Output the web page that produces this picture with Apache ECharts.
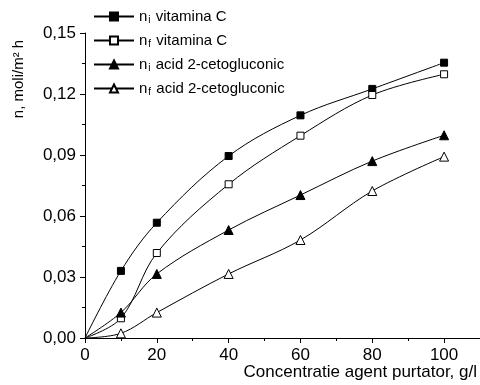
<!DOCTYPE html>
<html><head><meta charset="utf-8">
<script src="https://cdn.jsdelivr.net/npm/echarts@6/dist/echarts.min.js"></script>
<style>html,body{margin:0;padding:0;background:#fff}#c{width:480px;height:385px}</style>
</head><body><div id="c"></div>
<script>
const xValues = [0, 10, 20, 40, 60, 80, 100];
const niVitC = [0, 0.033, 0.0567, 0.0895, 0.1095, 0.1225, 0.1354];
const nfVitC = [0, 0.0097, 0.0418, 0.0756, 0.0995, 0.1195, 0.1297];
const niAcid = [0, 0.0125, 0.0315, 0.0531, 0.0703, 0.087, 0.0997];
const nfAcid = [0, 0.0023, 0.0125, 0.0315, 0.0482, 0.0723, 0.0892];
const seriesNames = ['n{s|i} vitamina C', 'n{s|f} vitamina C', 'n{s|i} acid 2-cetogluconic', 'n{s|f} acid 2-cetogluconic'];
const xAxisTitle = 'Concentratie agent purtator, g/l';
const yAxisTitle = 'n, moli/m² h';

const FONT = 'Liberation Sans, Arial, sans-serif';
function mk(vals) {
  return xValues.map((x, i) => i === 0 ? { value: [x, vals[i]], symbol: 'none' } : [x, vals[i]]);
}
const defs = [
  { data: niVitC, symbol: 'rect', size: 7, fill: '#000' },
  { data: nfVitC, symbol: 'rect', size: 7, fill: '#fff' },
  { data: niAcid, symbol: 'triangle', size: 9, fill: '#000' },
  { data: nfAcid, symbol: 'triangle', size: 9, fill: '#fff' }
];
const chart = echarts.init(document.getElementById('c'), null, { renderer: 'canvas' });
chart.setOption({
  animation: false,
  backgroundColor: '#fff',
  textStyle: { fontFamily: FONT },
  grid: { left: 85, right: 0, top: 33, bottom: 47, containLabel: false },
  legend: {
    orient: 'vertical', left: 88, top: 4, itemGap: 7.5, itemWidth: 40, itemHeight: 10,
    data: seriesNames,
    textStyle: { fontSize: 15, color: '#000', fontFamily: FONT,
      rich: { s: { fontSize: 10, padding: [8, 1, 0, 1], fontFamily: FONT, color: '#000' } } },
  },
  xAxis: {
    type: 'value', min: 0, max: 110, interval: 20,
    axisLine: { lineStyle: { color: '#000', width: 1 } },
    axisTick: { length: 5, lineStyle: { color: '#000' } },
    minorTick: { show: true, splitNumber: 2, length: 3, lineStyle: { color: '#000' } },
    splitLine: { show: false },
    axisLabel: { color: '#000', fontSize: 17, fontFamily: FONT, margin: 9, showMaxLabel: false },
    name: xAxisTitle, nameLocation: 'end', nameGap: 0,
    nameTextStyle: { fontSize: 17, color: '#000', fontFamily: FONT, align: 'right', verticalAlign: 'top', padding: [26, 3, 0, 0] }
  },
  yAxis: {
    type: 'value', min: 0, max: 0.15, interval: 0.03,
    axisLine: { show: true, lineStyle: { color: '#000', width: 1 } },
    axisTick: { show: true, length: 5, lineStyle: { color: '#000' } },
    minorTick: { show: true, splitNumber: 2, length: 3, lineStyle: { color: '#000' } },
    splitLine: { show: false },
    axisLabel: { color: '#000', fontSize: 17, fontFamily: FONT, margin: 9,
      formatter: v => v.toFixed(2).replace('.', ',') }
  },
  graphic: [{
    type: 'text', x: 19, y: 79, rotation: Math.PI / 2,
    style: { text: yAxisTitle, font: '15px ' + FONT, fill: '#000', textAlign: 'center', textVerticalAlign: 'middle' }
  }],
  series: defs.map((d, i) => ({
    name: seriesNames[i], type: 'line', smooth: 0.35,
    data: mk(d.data), symbol: d.symbol, symbolSize: d.size, showSymbol: true,
    lineStyle: { color: '#000', width: 1 },
    itemStyle: { color: d.fill, borderColor: '#000', borderWidth: 1 },
    z: 2 + i
  }))
});
</script></body></html>
